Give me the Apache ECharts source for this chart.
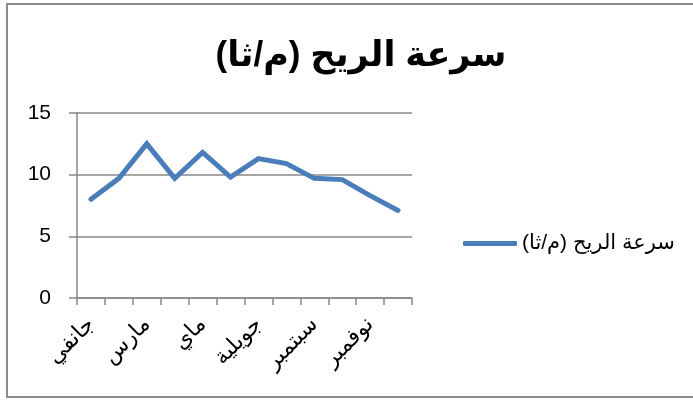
<!DOCTYPE html>
<html lang="ar">
<head>
    <meta charset="UTF-8">
    <title>سرعة الريح</title>
    <script src="https://cdn.jsdelivr.net/npm/echarts@6/dist/echarts.min.js"></script>
    <style>
        html, body { margin: 0; padding: 0; background: #fff; }
        #chart { width: 693px; height: 401px; }
        #frame {
            position: absolute; left: 6px; top: 3px; width: 690px; height: 395px;
            border: 2px solid #8c8c8c; box-sizing: border-box; pointer-events: none;
        }
    </style>
</head>
<body>
    <div id="chart"></div>
    <div id="frame"></div>
    <script>
        // months (Algerian names)
        const months = ['جانفي', 'فيفري', 'مارس', 'أفريل', 'ماي', 'جوان',
            'جويلية', 'أوت', 'سبتمبر', 'أكتوبر', 'نوفمبر', 'ديسمبر'];
        // wind speed values
        const windSpeed = [8.0, 9.7, 12.5, 9.7, 11.8, 9.8, 11.3, 10.9, 9.7, 9.6, 8.3, 7.1];
        const seriesName = 'سرعة الريح (م/ثا)';
        const titleText = 'سرعة الريح (م/ثا)';

        const fonts = '"Liberation Sans", "DejaVu Sans", sans-serif';
        const myChart = echarts.init(document.getElementById('chart'));

        myChart.setOption({
            animation: false,
            textStyle: { fontFamily: fonts },
            title: {
                text: titleText,
                left: 356,
                textAlign: 'center',
                top: 34,
                textStyle: { fontSize: 35, fontWeight: 'bold', color: '#000', fontFamily: fonts }
            },
            legend: {
                left: 458,
                top: 228,
                icon: 'roundRect',
                itemWidth: 54,
                itemHeight: 5,
                itemGap: 8,
                textStyle: { fontSize: 21, color: '#000', fontFamily: fonts },
                data: [{ name: seriesName, itemStyle: { color: '#4a7ebb' } }]
            },
            grid: { left: 77, right: 281, top: 113, bottom: 103 },
            xAxis: {
                type: 'category',
                data: months,
                boundaryGap: true,
                axisLine: { lineStyle: { color: '#888', width: 1.5 } },
                axisTick: { show: true, length: 7, interval: 0, lineStyle: { color: '#888', width: 1.5 } },
                axisLabel: {
                    interval: 1,
                    rotate: 45,
                    margin: 23,
                    fontSize: 22,
                    color: '#000',
                    fontFamily: fonts
                }
            },
            yAxis: {
                type: 'value',
                min: 0,
                max: 15,
                interval: 5,
                axisLine: { show: true, lineStyle: { color: '#888', width: 1.5 } },
                axisTick: { show: true, length: 8, lineStyle: { color: '#888', width: 1.5 } },
                splitLine: { lineStyle: { color: '#888', width: 1.5 } },
                axisLabel: { fontSize: 21, color: '#000', margin: 26, fontFamily: fonts }
            },
            series: [{
                name: seriesName,
                type: 'line',
                data: windSpeed,
                showSymbol: false,
                symbol: 'none',
                lineStyle: { color: '#4a7ebb', width: 5, cap: 'round', join: 'miter' },
                itemStyle: { color: '#4a7ebb' }
            }]
        });
    </script>
</body>
</html>
